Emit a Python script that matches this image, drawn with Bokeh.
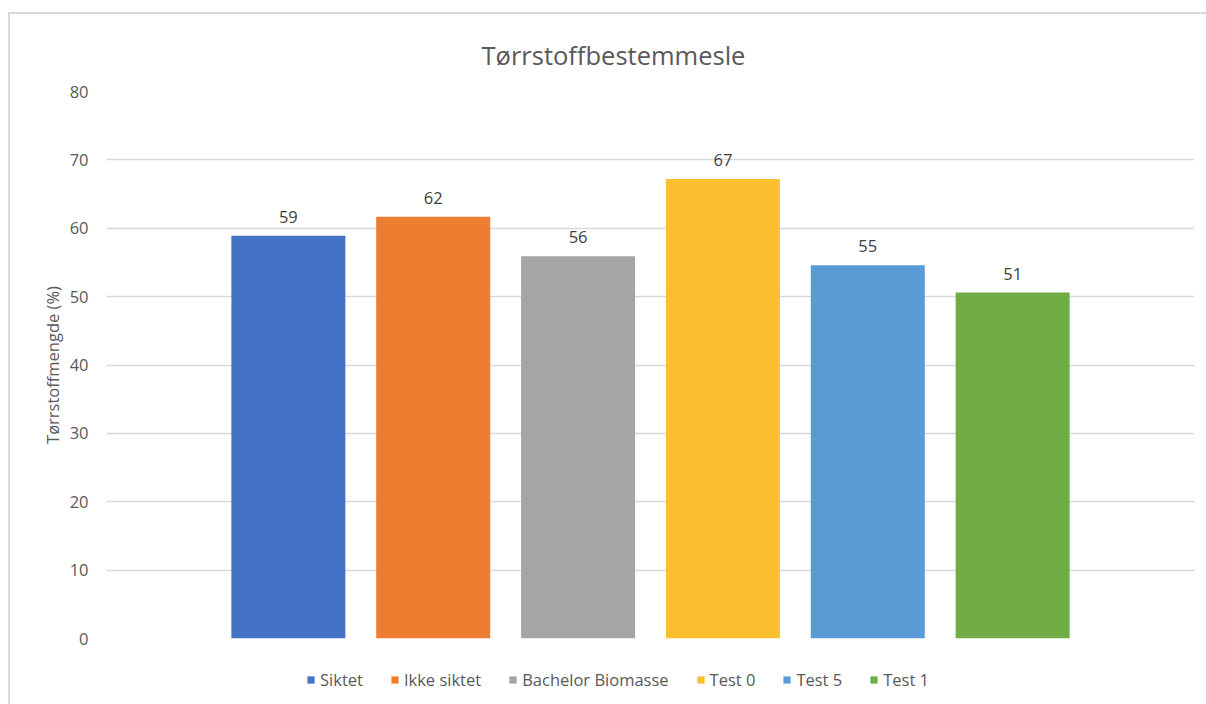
from bokeh.plotting import figure
from bokeh.layouts import column
from bokeh.models import ColumnDataSource, Legend, LegendItem, Range1d, FixedTicker, Title
from bokeh.core.properties import value
from bokeh.embed import file_html
from bokeh.resources import INLINE

# Dry-matter determination per sample
samples = ["Siktet", "Ikke siktet", "Bachelor Biomasse", "Test 0", "Test 5", "Test 1"]
dry_matter = [58.9, 61.7, 55.9, 67.2, 54.6, 50.6]
colors = ["#4472C4", "#ED7D31", "#A5A5A5", "#FBBF2F", "#5B9BD5", "#70AD47"]
y_ticks = [0, 10, 20, 30, 40, 50, 60, 70, 80]

FONT = "Open Sans"
GREY = "#595959"

positions = list(range(len(samples)))
labels = [f"{v:.0f}" for v in dry_matter]

# --- main chart -----------------------------------------------------------
p = figure(
    width=1196, height=635,
    x_range=Range1d(-1.2555, 6.2555), y_range=Range1d(0, 80),
    output_backend="svg", toolbar_location=None,
    min_border_left=96, min_border_right=12, min_border_top=77, min_border_bottom=11,
)
p.outline_line_color = None
p.background_fill_color = "white"
p.border_fill_color = "white"

p.add_layout(Title(text="Tørrstoffbestemmesle", align="left", offset=375,
                   vertical_align="top",
                   text_font=FONT, text_font_size="25.5px", text_font_style="normal",
                   text_color=GREY, standoff=36), "above")

sources = []
for i, (val, col, lab) in enumerate(zip(dry_matter, colors, labels)):
    src = ColumnDataSource(dict(x=[positions[i]], top=[val], lab=[lab]))
    sources.append(src)
    p.vbar(x="x", top="top", width=0.787, bottom=0, source=src,
           fill_color=col, line_color=None)
    p.text(x="x", y="top", text="lab", source=src, text_align="center",
           text_baseline="alphabetic", y_offset=-19, text_font=value(FONT),
           text_font_size="16.5px", text_color="#404040")

p.xaxis.visible = False
p.xgrid.visible = False
p.ygrid.grid_line_color = "#d9d9d9"
p.ygrid.grid_line_width = 1.5

ya = p.yaxis[0]
ya.ticker = FixedTicker(ticks=y_ticks)
ya.axis_line_color = None
ya.major_tick_line_color = None
ya.minor_tick_line_color = None
ya.major_label_text_font = FONT
ya.major_label_text_font_size = "16.5px"
ya.major_label_text_color = GREY
ya.major_label_standoff = 12
ya.axis_label = "Tørrstoffmengde (%)"
ya.axis_label_text_font = FONT
ya.axis_label_text_font_size = "16.5px"
ya.axis_label_text_font_style = "normal"
ya.axis_label_text_color = GREY
ya.axis_label_standoff = 3

# --- legend strip: hidden key renderers, only their legend swatches show ----
leg = figure(
    width=1196, height=55, x_range=Range1d(-1.2555, 6.2555), y_range=Range1d(0, 80),
    output_backend="svg", toolbar_location=None,
    x_axis_location=None, y_axis_location=None,
    min_border_left=0, min_border_right=0, min_border_top=0, min_border_bottom=0,
)
leg.outline_line_color = None
leg.grid.visible = False

items = []
for name, col, src in zip(samples, colors, sources):
    key = leg.vbar(x="x", top="top", width=0.787, bottom=0, source=src,
                   fill_color=col, line_color=None)
    key.visible = False
    items.append(LegendItem(label=name, renderers=[key]))

legend = Legend(items=items, orientation="horizontal", location=(200, 13),
                label_text_font=FONT, label_text_font_size="16.5px", label_text_color=GREY,
                glyph_width=9, glyph_height=9, spacing=27, label_standoff=5,
                padding=0, margin=0, border_line_color=None, background_fill_alpha=0)
leg.add_layout(legend)

page = column(p, leg, spacing=0, margin=(12, 0, 0, 8),
              styles={"border-left": "2px solid #d9d9d9", "border-top": "2px solid #d9d9d9"})

open("out.html", "w").write(file_html(page, INLINE))
